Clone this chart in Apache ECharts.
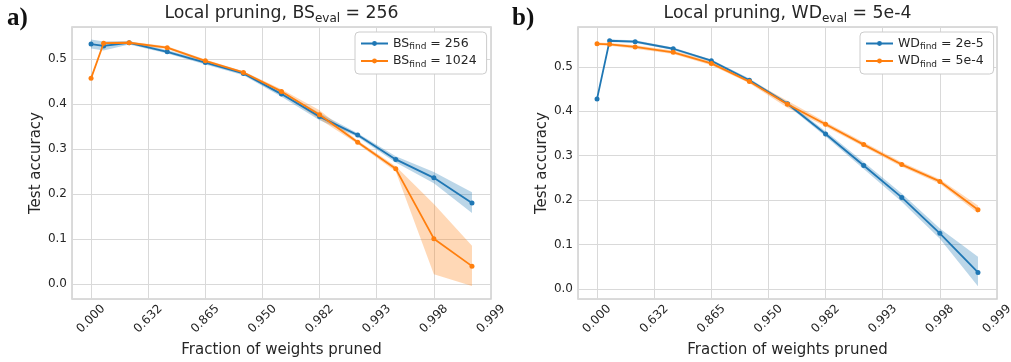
<!DOCTYPE html>
<html><head><meta charset="utf-8">
<script src="https://cdn.jsdelivr.net/npm/echarts@6/dist/echarts.min.js"></script>
<style>html,body{margin:0;padding:0;background:#fff}#c{width:1011px;height:362px}</style>
</head><body><div id="c"></div><script>
// x position of each pruning level on the axis (= -ln(1 - fraction pruned))
const xPos = [0, 0.22, 0.667, 1.333, 2, 2.667, 3.333, 4, 4.667, 5.333, 6, 6.667];
// tick labels at axis positions 0..7
const xTickLabels = ['0.000', '0.632', '0.865', '0.950', '0.982', '0.993', '0.998', '0.999'];

// Panel a) Local pruning, BS_eval = 256
const bs256      = [0.533, 0.529, 0.536, 0.516, 0.492, 0.468, 0.422, 0.372, 0.331, 0.277, 0.236, 0.180];
const bs256Lo    = [0.523, 0.519, 0.532, 0.512, 0.488, 0.464, 0.416, 0.364, 0.327, 0.270, 0.224, 0.158];
const bs256Hi    = [0.543, 0.539, 0.540, 0.520, 0.496, 0.472, 0.428, 0.380, 0.335, 0.284, 0.249, 0.204];
const bs1024     = [0.457, 0.535, 0.536, 0.525, 0.496, 0.470, 0.428, 0.376, 0.315, 0.256, 0.101, 0.040];
const bs1024Lo   = [0.455, 0.532, 0.533, 0.522, 0.493, 0.467, 0.423, 0.366, 0.311, 0.250, 0.022, -0.004];
const bs1024Hi   = [0.459, 0.538, 0.539, 0.528, 0.499, 0.473, 0.433, 0.386, 0.319, 0.262, 0.178, 0.085];

// Panel b) Local pruning, WD_eval = 5e-4
const wd2e5      = [0.428, 0.559, 0.557, 0.541, 0.514, 0.470, 0.417, 0.349, 0.278, 0.206, 0.125, 0.037];
const wd2e5Lo    = [0.426, 0.556, 0.554, 0.538, 0.511, 0.466, 0.413, 0.343, 0.270, 0.196, 0.113, 0.006];
const wd2e5Hi    = [0.430, 0.562, 0.560, 0.544, 0.517, 0.474, 0.421, 0.355, 0.286, 0.215, 0.136, 0.072];
const wd5e4      = [0.552, 0.551, 0.545, 0.533, 0.508, 0.467, 0.416, 0.371, 0.325, 0.280, 0.242, 0.178];
const wd5e4Lo    = [0.549, 0.548, 0.541, 0.529, 0.504, 0.463, 0.408, 0.366, 0.320, 0.275, 0.237, 0.170];
const wd5e4Hi    = [0.555, 0.554, 0.549, 0.537, 0.512, 0.471, 0.424, 0.376, 0.330, 0.285, 0.247, 0.188];

const yTickStep = 0.1;

const FONT = 'DejaVu Sans';
const TXT = '#262626';
const BLUE = '#1f77b4', ORANGE = '#ff7f0e';
const BLUE_A = 'rgba(31,119,180,0.3)', ORANGE_A = 'rgba(255,127,14,0.3)';

const legendText = {
  bs256: '{n|BS}{s|find}{n| = 256}',
  bs1024: '{n|BS}{s|find}{n| = 1024}',
  wd2e5: '{n|WD}{s|find}{n| = 2e-5}',
  wd5e4: '{n|WD}{s|find}{n| = 5e-4}'
};

const chart = echarts.init(document.getElementById('c'), null, {renderer: 'canvas'});

function xAxisCfg(gi) {
  return {
    type: 'value', gridIndex: gi, min: -1/3, max: 7, minInterval: 1, maxInterval: 1,
    axisLine: {show: false}, axisTick: {show: false},
    splitLine: {show: true, lineStyle: {color: '#d9d9d9', width: 1}},
    axisLabel: {
      rotate: 45, fontSize: 12, fontFamily: FONT, color: TXT, margin: 20,
      align: 'center', verticalAlign: 'middle',
      showMinLabel: true, showMaxLabel: true,
      formatter: v => { const k = Math.round(v); return (Math.abs(v - k) < 1e-6 && k >= 0 && k < xTickLabels.length) ? xTickLabels[k] : ''; }
    },
    name: 'Fraction of weights pruned', nameLocation: 'middle', nameGap: 41,
    nameTextStyle: {fontSize: 15, fontFamily: FONT, color: TXT}
  };
}
function yAxisCfg(gi, mn, mx) {
  return {
    type: 'value', gridIndex: gi, min: mn, max: mx, minInterval: yTickStep, maxInterval: yTickStep,
    axisLine: {show: false}, axisTick: {show: false},
    splitLine: {show: true, lineStyle: {color: '#d9d9d9', width: 1}},
    axisLabel: {
      fontSize: 12, fontFamily: FONT, color: TXT, margin: 5,
      formatter: v => { const k = Math.round(v / yTickStep); return (Math.abs(v / yTickStep - k) < 1e-6 && k >= 0) ? (k * yTickStep).toFixed(1) : ''; }
    },
    name: 'Test accuracy', nameLocation: 'middle', nameGap: 28,
    nameTextStyle: {fontSize: 15, fontFamily: FONT, color: TXT}
  };
}
function lineSeries(name, gi, vals, color, z) {
  return {
    type: 'line', name, xAxisIndex: gi, yAxisIndex: gi,
    data: xPos.map((x, i) => [x, vals[i]]),
    symbol: 'circle', symbolSize: 5, showSymbol: true,
    itemStyle: {color}, lineStyle: {color, width: 1.8},
    z, silent: true, animation: false
  };
}
function bandSeries(gi, lo, hi, fill) {
  return {
    type: 'custom', xAxisIndex: gi, yAxisIndex: gi, silent: true, z: 1, animation: false,
    data: [[xPos[0], hi[0]]],
    renderItem: (params, api) => {
      const pts = [];
      for (let i = 0; i < xPos.length; i++) pts.push(api.coord([xPos[i], hi[i]]));
      for (let i = xPos.length - 1; i >= 0; i--) pts.push(api.coord([xPos[i], lo[i]]));
      return {type: 'polygon', shape: {points: pts}, style: {fill, stroke: null}};
    }
  };
}
function legendCfg(names, left) {
  return {
    data: names, orient: 'vertical', left, top: 32,
    backgroundColor: '#fff', borderColor: '#cccccc', borderWidth: 1, borderRadius: 4,
    padding: [5, 10, 5, 5], itemGap: 3, itemWidth: 27, itemHeight: 6,
    formatter: n => legendText[n],
    textStyle: {
      fontFamily: FONT, color: TXT,
      rich: {
        n: {fontSize: 12.5, fontFamily: FONT, color: TXT, lineHeight: 16},
        s: {fontSize: 9, fontFamily: FONT, color: TXT, lineHeight: 16, verticalAlign: 'bottom'}
      }
    }
  };
}
const titleRich = {
  n: {fontSize: 17.3, fontFamily: FONT, fill: TXT, lineHeight: 22},
  s: {fontSize: 12, fontFamily: FONT, fill: TXT, lineHeight: 22, verticalAlign: 'bottom'}
};

chart.setOption({
  animation: false,
  backgroundColor: '#fff',
  grid: [
    {left: 72, top: 27, width: 419, height: 272, outerBoundsMode: 'none', containLabel: false, show: true, borderColor: '#d0d0d0', borderWidth: 1.5, backgroundColor: '#fff'},
    {left: 578, top: 27, width: 419, height: 272, outerBoundsMode: 'none', containLabel: false, show: true, borderColor: '#d0d0d0', borderWidth: 1.5, backgroundColor: '#fff'}
  ],
  xAxis: [xAxisCfg(0), xAxisCfg(1)],
  yAxis: [yAxisCfg(0, -0.033, 0.571), yAxisCfg(1, -0.023, 0.590)],
  legend: [legendCfg(['bs256', 'bs1024'], 355), legendCfg(['wd2e5', 'wd5e4'], 860)],
  series: [
    bandSeries(0, bs256Lo, bs256Hi, BLUE_A),
    bandSeries(0, bs1024Lo, bs1024Hi, ORANGE_A),
    lineSeries('bs256', 0, bs256, BLUE, 3),
    lineSeries('bs1024', 0, bs1024, ORANGE, 4),
    bandSeries(1, wd2e5Lo, wd2e5Hi, BLUE_A),
    bandSeries(1, wd5e4Lo, wd5e4Hi, ORANGE_A),
    lineSeries('wd2e5', 1, wd2e5, BLUE, 3),
    lineSeries('wd5e4', 1, wd5e4, ORANGE, 4)
  ],
  graphic: [
    {type: 'text', x: 281.5, y: 3, style: {text: '{n|Local pruning, BS}{s|eval}{n| = 256}', rich: titleRich, align: 'center', verticalAlign: 'top'}},
    {type: 'text', x: 787.5, y: 3, style: {text: '{n|Local pruning, WD}{s|eval}{n| = 5e-4}', rich: titleRich, align: 'center', verticalAlign: 'top'}},
    {type: 'text', x: 7, y: 19, style: {text: 'a)', font: 'bold 25px "Liberation Serif"', fill: '#111', align: 'left', verticalAlign: 'middle'}},
    {type: 'text', x: 512, y: 19, style: {text: 'b)', font: 'bold 25px "Liberation Serif"', fill: '#111', align: 'left', verticalAlign: 'middle'}}
  ]
});
</script></body></html>
